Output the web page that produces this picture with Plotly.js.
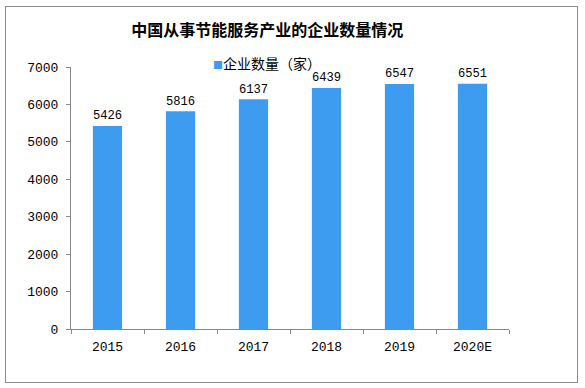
<!DOCTYPE html>
<html>
<head>
<meta charset="utf-8">
<script src="https://cdn.plot.ly/plotly-3.0.1.min.js"></script>
<style>
  html, body { margin: 0; padding: 0; background: #fff; }
  #wrap { position: relative; width: 585px; height: 388px; }
  #frame { position: absolute; left: 5px; top: 6px; width: 573px; height: 377px; border: 1px solid #8c8c8c; box-sizing: border-box; pointer-events: none; }
  #chart { position: absolute; left: 0; top: 0; width: 585px; height: 388px; }
</style>
</head>
<body>
<div id="wrap">
  <div id="chart"></div>
  <div id="frame"></div>
</div>
<script>
const categories = ["2015", "2016", "2017", "2018", "2019", "2020E"];
const values = [5426, 5816, 6137, 6439, 6547, 6551];
const seriesName = "企业数量（家）";
const chartTitle = "中国从事节能服务产业的企业数量情况";
const yTicks = [0, 1000, 2000, 3000, 4000, 5000, 6000, 7000];
const barColor = "#3D9BF0";

const numFont = "SimSun, 'Liberation Mono', monospace";
const cjkFont = "'Noto Sans CJK SC', sans-serif";

const trace = {
  type: "bar",
  x: categories,
  y: values,
  name: seriesName,
  marker: { color: barColor },
  width: 0.4,
  text: values.map(String),
  textposition: "outside",
  textfont: { family: numFont, size: 13, color: "#000" },
  cliponaxis: false,
  showlegend: false
};

const layout = {
  width: 585,
  height: 388,
  margin: { l: 71, r: 76, t: 67, b: 59 },
  paper_bgcolor: "#fff",
  plot_bgcolor: "#fff",
  title: {
    text: "<b>" + chartTitle + "</b>",
    font: { family: cjkFont, size: 16, color: "#000" },
    x: 262 / 585, xanchor: "center", xref: "paper",
    y: 1 - 30 / 388, yanchor: "middle", yref: "container"
  },
  showlegend: false,
  annotations: [{
    xref: "paper", yref: "paper",
    x: (211 - 71) / 438, xanchor: "left",
    y: (329 - 63) / 262, yanchor: "middle",
    showarrow: false,
    text: "<span style='color:" + barColor + ";font-size:10px'>■</span>" + seriesName,
    font: { family: cjkFont, size: 14, color: "#000" }
  }],
  xaxis: {
    type: "category",
    showline: true, linecolor: "#888", linewidth: 1,
    ticks: "outside", tickson: "boundaries", ticklen: 4, tickcolor: "#888",
    ticklabelstandoff: 5,
    tickfont: { family: numFont, size: 13, color: "#000" },
    showgrid: false, zeroline: false, fixedrange: true
  },
  yaxis: {
    range: [0, 7000],
    tickvals: yTicks,
    ticktext: yTicks.map(String),
    showline: true, linecolor: "#888", linewidth: 1,
    ticks: "outside", ticklen: 4, tickcolor: "#888",
    ticklabelstandoff: 5,
    tickfont: { family: numFont, size: 13, color: "#000" },
    showgrid: false, zeroline: false, fixedrange: true
  },
  bargap: 0.6
};

Plotly.newPlot("chart", [trace], layout, { displayModeBar: false, staticPlot: true });
</script>
</body>
</html>
